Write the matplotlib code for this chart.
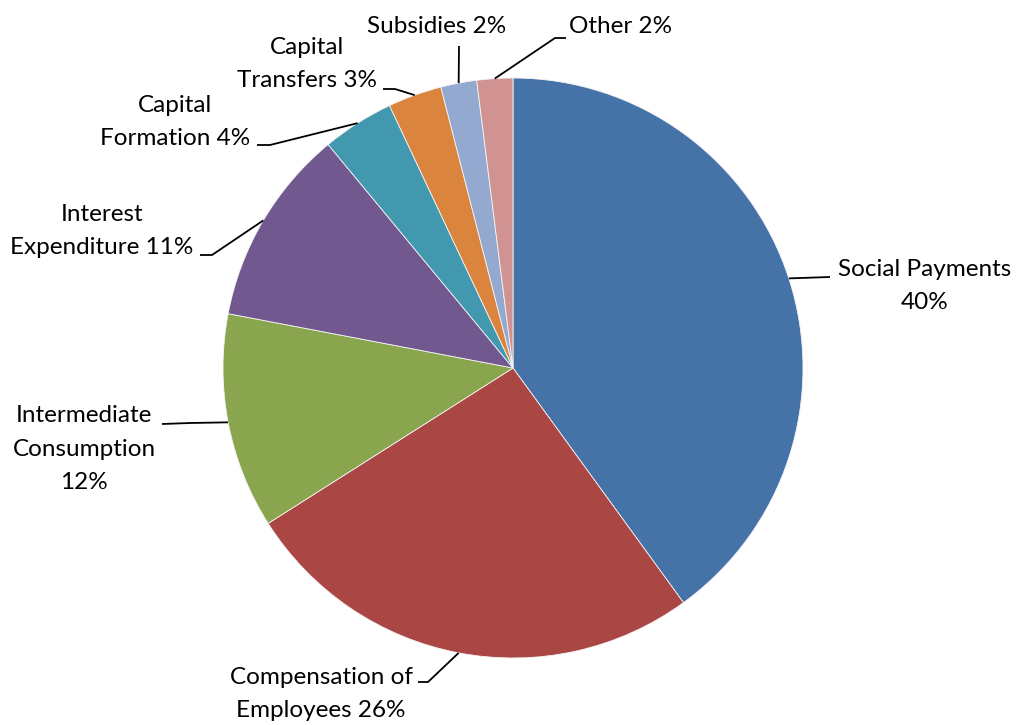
import numpy as np
import matplotlib
matplotlib.use("Agg")
import matplotlib.pyplot as plt

plt.rcParams["font.family"] = ["Lato", "DejaVu Sans"]

# data
categories = ["Social Payments", "Compensation of Employees", "Intermediate Consumption",
              "Interest Expenditure", "Capital Formation", "Capital Transfers",
              "Subsidies", "Other"]
shares = [40, 26, 12, 11, 4, 3, 2, 2]
label_texts = ["Social Payments\n40%", "Compensation of\nEmployees 26%",
               "Intermediate\nConsumption\n12%", "Interest\nExpenditure 11%",
               "Capital\nFormation 4%", "Capital\nTransfers 3%",
               "Subsidies 2%", "Other 2%"]
colors = ["#4572A7", "#AA4643", "#89A54E", "#71588F",
          "#4198AF", "#DB843D", "#93A9CF", "#D19392"]

# layout (pixel coordinates, y measured from the top)
W, H = 1018, 725
CENTER = (513, 368)
RADIUS = 290
label_pos = [(925, 286), (321, 694), (84, 449), (102, 231),
             (175, 122), (307, 64), (437, 26), (621, 26)]
# leader line: elbow point, then end point next to the text
leader_pts = [
    [(830, 277)],
    [(428, 682), (418, 682)],
    [(190, 423), (162, 424)],
    [(212, 255), (200, 255)],
    [(270, 145), (257, 145)],
    [(395, 89), (383, 89)],
    [(459, 46)],
    [(555, 38), (566, 38)],
]

fig = plt.figure(figsize=(W / 100, H / 100), dpi=100)
ax = fig.add_axes([0, 0, 1, 1])

cx, cy = CENTER[0], H - CENTER[1]
wedges, _ = ax.pie(shares, colors=colors, startangle=90, counterclock=False,
                   center=(cx, cy), radius=RADIUS, frame=True,
                   wedgeprops=dict(edgecolor="#f4f4f4", linewidth=0.6))
ax.set_xlim(0, W)
ax.set_ylim(0, H)
ax.set_aspect("equal")
ax.axis("off")

for w, text, (tx, ty), pts in zip(wedges, label_texts, label_pos, leader_pts):
    mid = np.deg2rad((w.theta1 + w.theta2) / 2)
    ax_x = cx + RADIUS * np.cos(mid)
    ax_y = cy + RADIUS * np.sin(mid)
    xs = [ax_x] + [p[0] for p in pts]
    ys = [ax_y] + [H - p[1] for p in pts]
    ax.plot(xs, ys, color="black", linewidth=1.3, solid_capstyle="butt")
    ax.text(tx, H - ty, text, ha="center", va="center", multialignment="center",
            fontsize=17.5, linespacing=1.72, color="black")

fig.savefig("out.png", dpi=100)
